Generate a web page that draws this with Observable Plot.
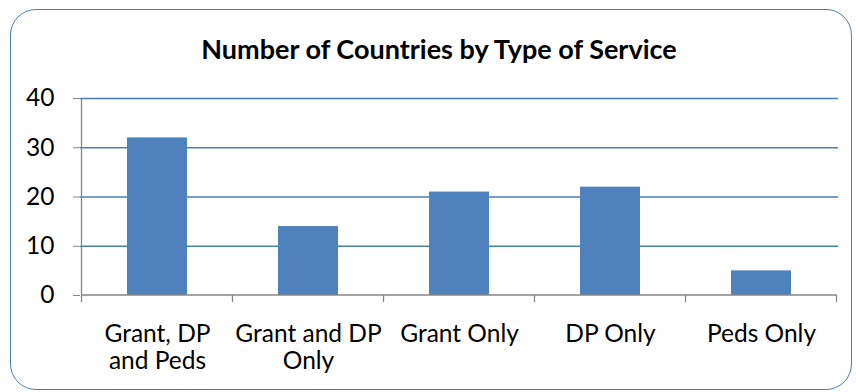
<!DOCTYPE html>
<html>
<head>
<meta charset="utf-8">
<script src="https://cdn.jsdelivr.net/npm/d3@7"></script>
<script src="https://cdn.jsdelivr.net/npm/@observablehq/plot@0.6"></script>
<style>
  html, body { margin: 0; padding: 0; background: #fff; }
  #wrap { position: relative; width: 856px; height: 392px; overflow: hidden; font-family: Lato, "Open Sans", sans-serif; }
  #border { position: absolute; left: 10px; top: 9px; width: 840px; height: 379px; border: 1.5px solid #4a7ebb; border-radius: 26px; }
  #title { position: absolute; left: 0; top: 33px; width: 878px; text-align: center; font-weight: bold; font-size: 27px; line-height: 32px; color: #000; }
  #chart { position: absolute; left: 0; top: 70px; }
</style>
</head>
<body>
<div id="wrap">
  <div id="border"></div>
  <div id="title">Number of Countries by Type of Service</div>
  <div id="chart"></div>
</div>
<script>
const categories = ["Grant, DP\nand Peds", "Grant and DP\nOnly", "Grant Only", "DP Only", "Peds Only"];
const values = [32, 14, 21, 22, 5];
const yTicks = [0, 10, 20, 30, 40];
const gridTicks = [10, 20, 30, 40];

const data = categories.map((c, i) => ({category: c, value: values[i]}));

const axisLines = (index, scales, values, dim) => {
  const x = scales.x, y = scales.y;
  const g = d3.create("svg:g").attr("stroke", "#868686").attr("stroke-width", 1.3);
  const step = x.step();
  const left = x(categories[0]) - (step - x.bandwidth()) / 2;
  const y0 = y(0), yTop = y(40);
  g.append("line").attr("x1", left).attr("x2", left).attr("y1", yTop).attr("y2", y0);
  g.append("line").attr("x1", left).attr("x2", left + step * categories.length).attr("y1", y0).attr("y2", y0);
  for (let i = 0; i <= categories.length; i++) {
    const xx = left + step * i;
    g.append("line").attr("x1", xx).attr("x2", xx).attr("y1", y0).attr("y2", y0 + 7);
  }
  return g.node();
};

const plot = Plot.plot({
  width: 856,
  height: 322,
  marginLeft: 80,
  marginRight: 18,
  marginTop: 28,
  marginBottom: 97,
  style: {fontFamily: "Lato, 'Open Sans', sans-serif", fontSize: "24.5px", color: "#000", background: "transparent"},
  x: {domain: categories, paddingInner: 0.6, paddingOuter: 0.3, label: null},
  y: {domain: [0, 40], label: null},
  marks: [
    Plot.gridY(gridTicks, {stroke: "#4a7ebb", strokeOpacity: 1, strokeWidth: 1.3}),
    Plot.barY(data, {x: "category", y: "value", fill: "#4f81bd"}),
    axisLines,
    Plot.axisY(yTicks, {tickSize: 7, tickPadding: 19, stroke: "#868686", fill: "#000", fontSize: 24.5, label: null}),
    Plot.axisX({tickSize: 0, tickPadding: 27, fill: "#000", fontSize: 24.5, lineHeight: 1.12, label: null})
  ]
});
document.getElementById("chart").appendChild(plot);
</script>
</body>
</html>
